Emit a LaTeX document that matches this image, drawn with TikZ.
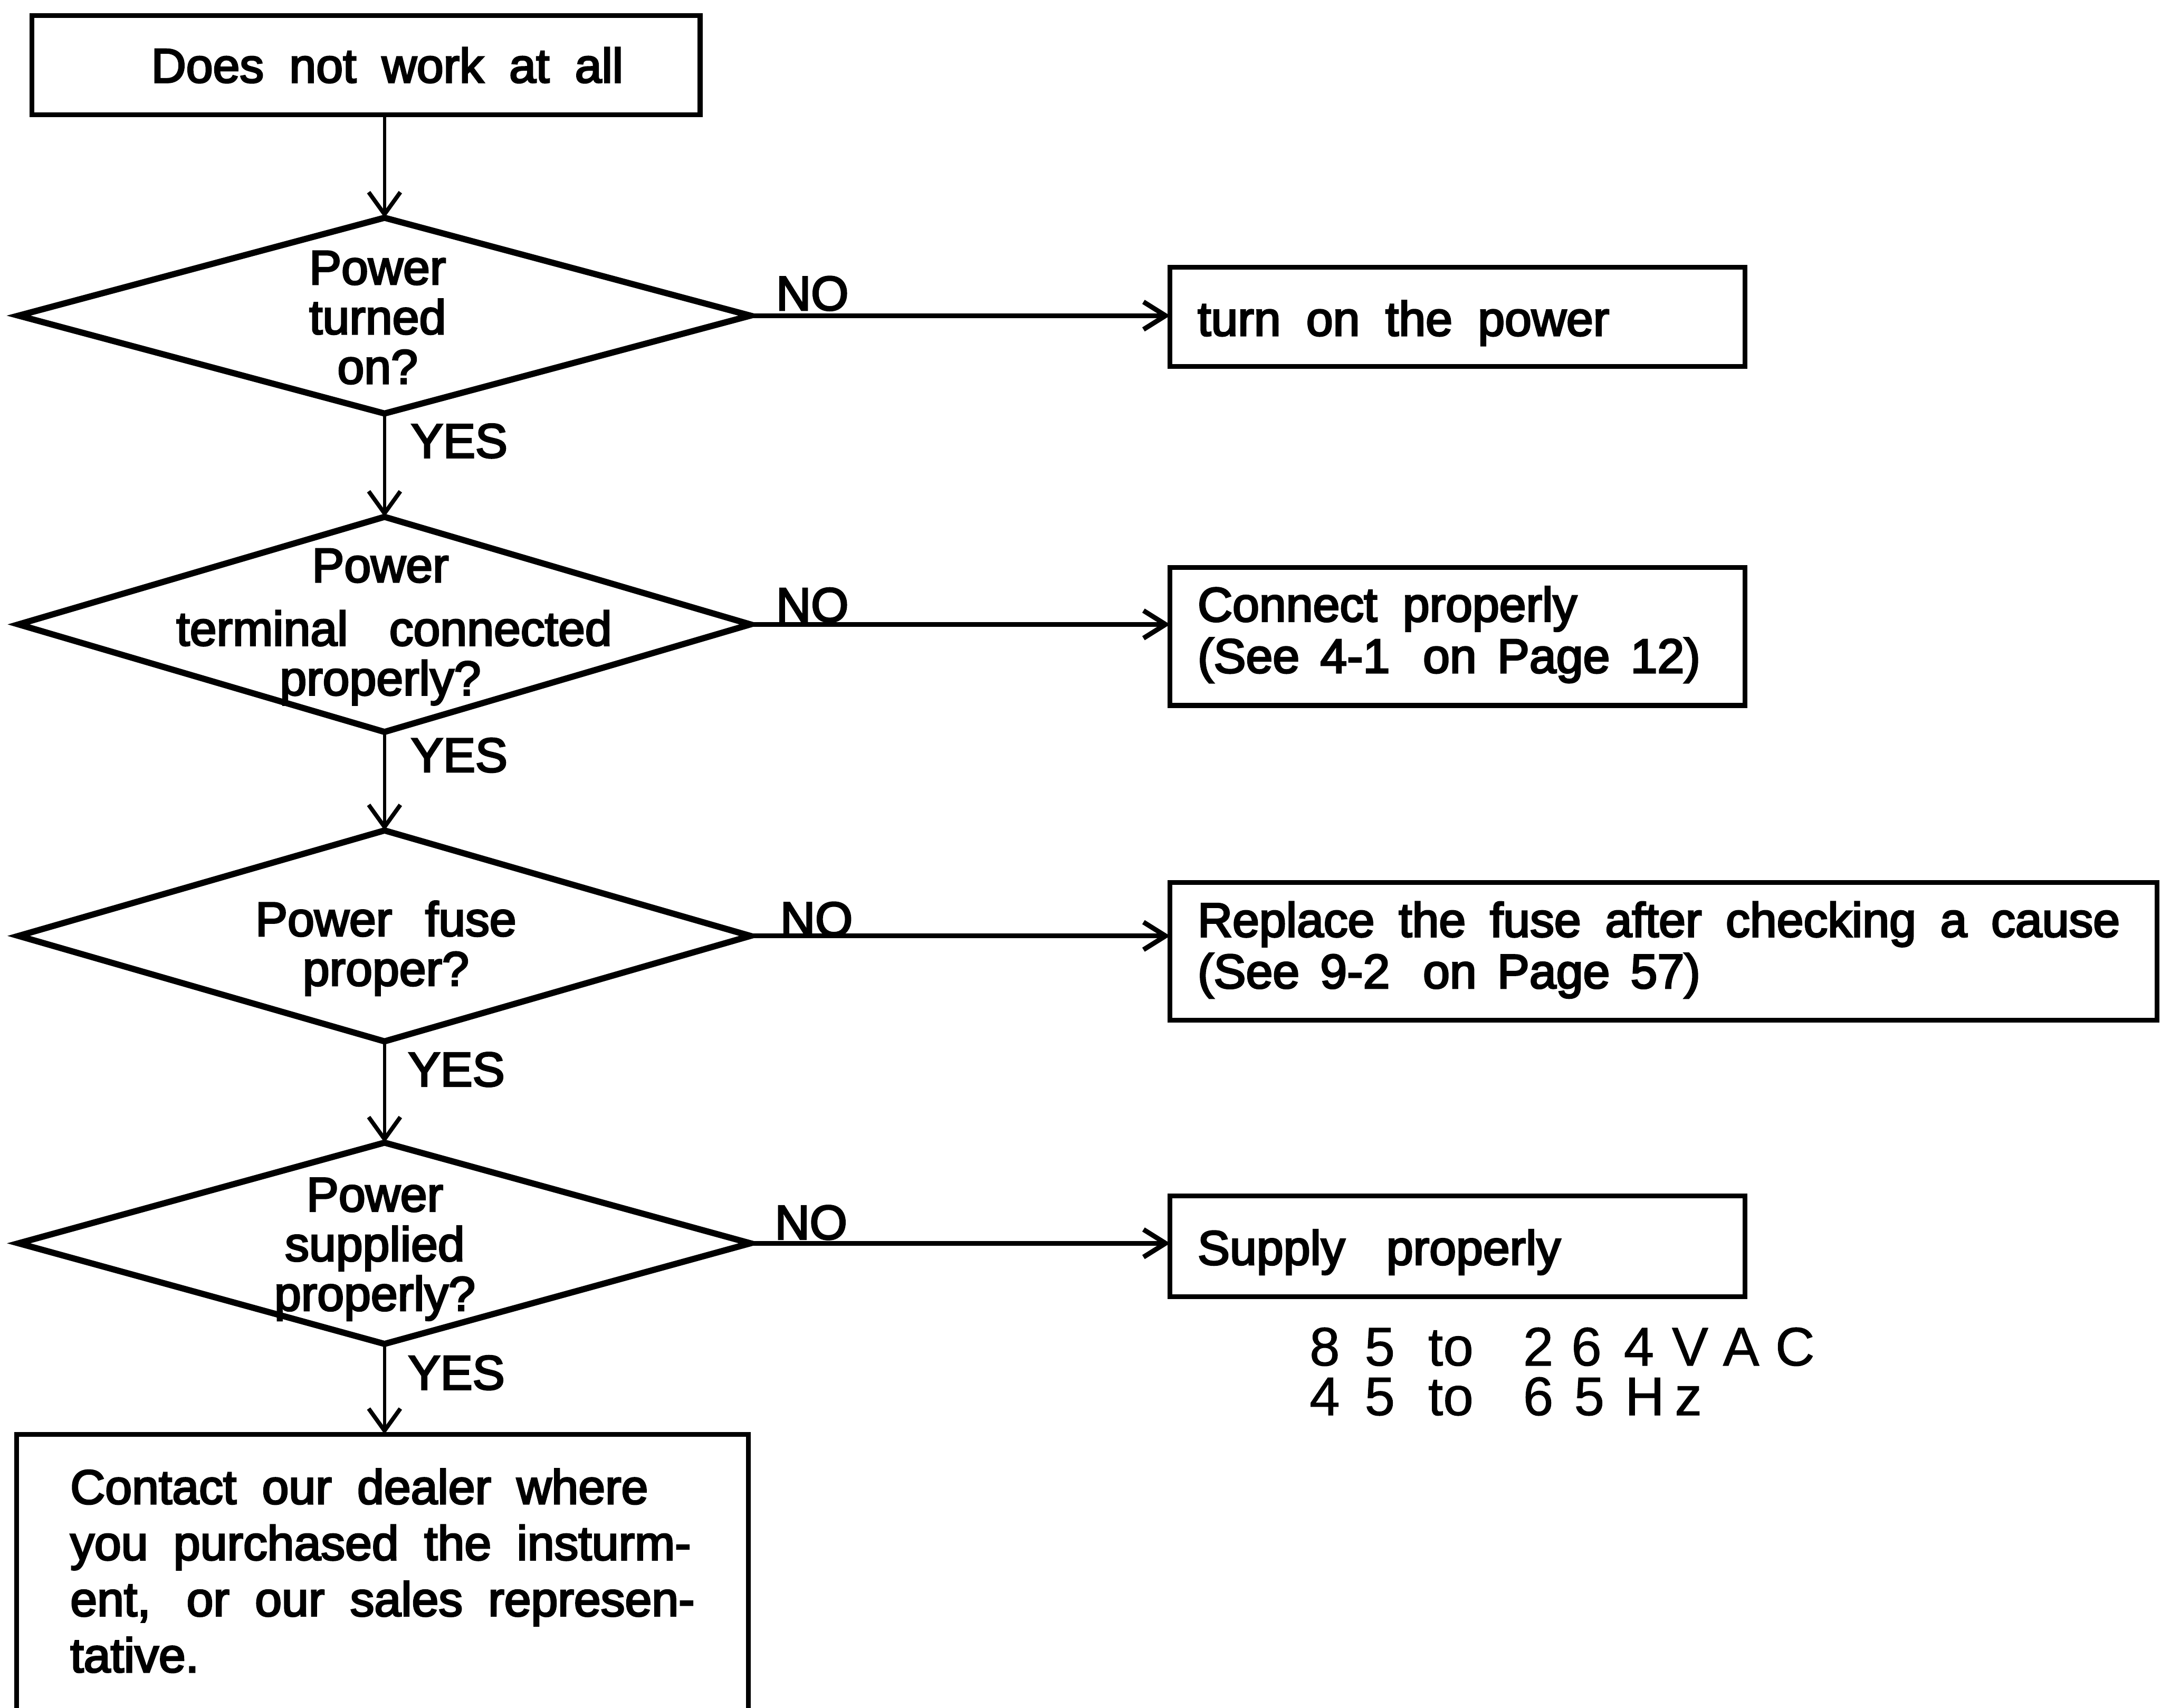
\documentclass[tikz,border=0pt]{standalone}
\usepackage{fontspec}
\setmainfont{Liberation Sans}[FakeBold=3.5]
\newfontfamily\specfont{Liberation Sans}[FakeBold=1]
\usetikzlibrary{shapes.geometric,arrows.meta}
% fixed-pitch cell for the spaced-out supply ratings
\newcommand\pitch[2]{\makebox[#1][l]{#2}}
% wide interword space of the printed chart
\newcommand\widespace{\spaceskip=18.5pt\relax}
\newcommand\chartfont[1]{\fontsize{35}{#1}\selectfont\widespace}
% one unbreakable line of box text, with the given interword space
\newcommand\bline[2][18.5pt]{\mbox{\spaceskip=#1\relax #2}}
\begin{document}
\begin{tikzpicture}[x=1pt,y=-1pt,
  txt/.style={font={\chartfont{36}}, inner sep=0pt},
  box/.style={draw, line width=3.5pt, rectangle, inner xsep=20pt, inner ysep=0pt, outer sep=0pt,
    align=left, anchor=north west, font={\chartfont{37.3}}},
  dia/.style={draw, diamond, line width=4.5pt, inner sep=0pt, outer sep=0pt, minimum width=531pt},
  qtext/.style={txt, align=center, anchor=north},
  lbl/.style={txt, anchor=base west},
  conn/.style={line width=2.5pt, -{Straight Barb[length=16pt,width=23pt,line width=3pt]}},
  noconn/.style={line width=3.5pt, -{Straight Barb[length=16pt,width=20pt]}},
]
\useasboundingbox (0,0) rectangle (1568,1239);
\fill[white] (0,0) rectangle (1568,1239);
\clip (0,0) rectangle (1568,1239);

% start
\node[txt, draw, line width=3.5pt, outer sep=0pt, minimum width=485pt, minimum height=72pt] (start) at (265.5,47.3)
  {\hspace*{31pt}Does not work at all};

% decisions
\node[dia, minimum height=142pt] (d1) at (279,229) {};
\node[qtext] (q1) at (274,182) {Power\\turned\\on?};

\node[dia, minimum height=156pt] (d2) at (279,453) {};
\node[qtext] (q2) at (276,398) {Power\\[10pt]\hspace*{20pt}terminal\hspace{30pt}connected\\properly?};

\node[dia, minimum height=153pt] (d3) at (279,679) {};
\node[qtext] (q3) at (280,653.5) {Power\hspace{24pt}fuse\\proper?};

\node[dia, minimum height=146pt] (d4) at (279,902) {};
\node[qtext] (q4) at (272,854.5) {Power\\supplied\\properly?};

% actions
\node[box, text width=377pt] (b1) at (849,194)
  {\bline{\rule[-22.5pt]{0pt}{72pt}turn on the power}};
\node[box, text width=377pt] (b2) at (849,411.6)
  {\bline{\rule{0pt}{39.2pt}Connect properly}\\
   \bline[15pt]{(See 4-1\hspace{24pt}on Page 12)\rule[-23.7pt]{0pt}{23.7pt}}};
\node[box, text width=676pt] (b3) at (849,640.2)
  {\bline[17.5pt]{\rule{0pt}{39.4pt}Replace the fuse after checking a cause}\\
   \bline[15pt]{(See 9-2\hspace{24pt}on Page 57)\rule[-23.2pt]{0pt}{23.2pt}}};
\node[box, text width=377pt] (b4) at (849,867.7)
  {\bline{\rule[-23.4pt]{0pt}{73.2pt}Supply\hspace{30pt}properly}};
\node[box, text width=453pt, inner xsep=39pt, font={\chartfont{40.7}}]
  (b5) at (12,1040.5)
  {\bline{\rule{0pt}{50.5pt}Contact our dealer where}\\
   \bline{you purchased the insturm-}\\
   \bline{ent,\hspace{26pt}or our sales represen-}\\
   \bline{tative.\rule[-120pt]{0pt}{120pt}}};

% supply ratings
\node[lbl, font={\specfont\fontsize{39.5}{39.5}\selectfont}] (spec1) at (950,990.7)
  {\pitch{40pt}{8}\pitch{46pt}{5}\pitch{69pt}{to}\pitch{35pt}{2}\pitch{38pt}{6}\pitch{35pt}{4}\pitch{37pt}{V}\pitch{38pt}{A}C};
\node[lbl, font={\specfont\fontsize{39.5}{39.5}\selectfont}] (spec2) at (950,1026.7)
  {\pitch{40pt}{4}\pitch{46pt}{5}\pitch{69pt}{to}\pitch{37pt}{6}\pitch{37pt}{5}\pitch{36pt}{H}z};

% branch labels
\node[lbl] (no1) at (563,225) {NO};
\node[lbl] (no2) at (563,451) {NO};
\node[lbl] (no3) at (566,679) {NO};
\node[lbl] (no4) at (562,899) {NO};
\node[lbl] (yes1) at (298,332) {YES};
\node[lbl] (yes2) at (298,560) {YES};
\node[lbl] (yes3) at (296,788) {YES};
\node[lbl] (yes4) at (296,1008) {YES};

% main flow
\draw[conn] (start.south -| d1.north) -- (d1.north);
\draw[conn] (d1.south) -- (d2.north);
\draw[conn] (d2.south) -- (d3.north);
\draw[conn] (d3.south) -- (d4.north);
\draw[conn] (d4.south) -- (d4.south |- b5.north);

% NO branches
\draw[noconn] (d1.east) -- (d1.east -| b1.west);
\draw[noconn] (d2.east) -- (d2.east -| b2.west);
\draw[noconn] (d3.east) -- (d3.east -| b3.west);
\draw[noconn] (d4.east) -- (d4.east -| b4.west);
\end{tikzpicture}
\end{document}
